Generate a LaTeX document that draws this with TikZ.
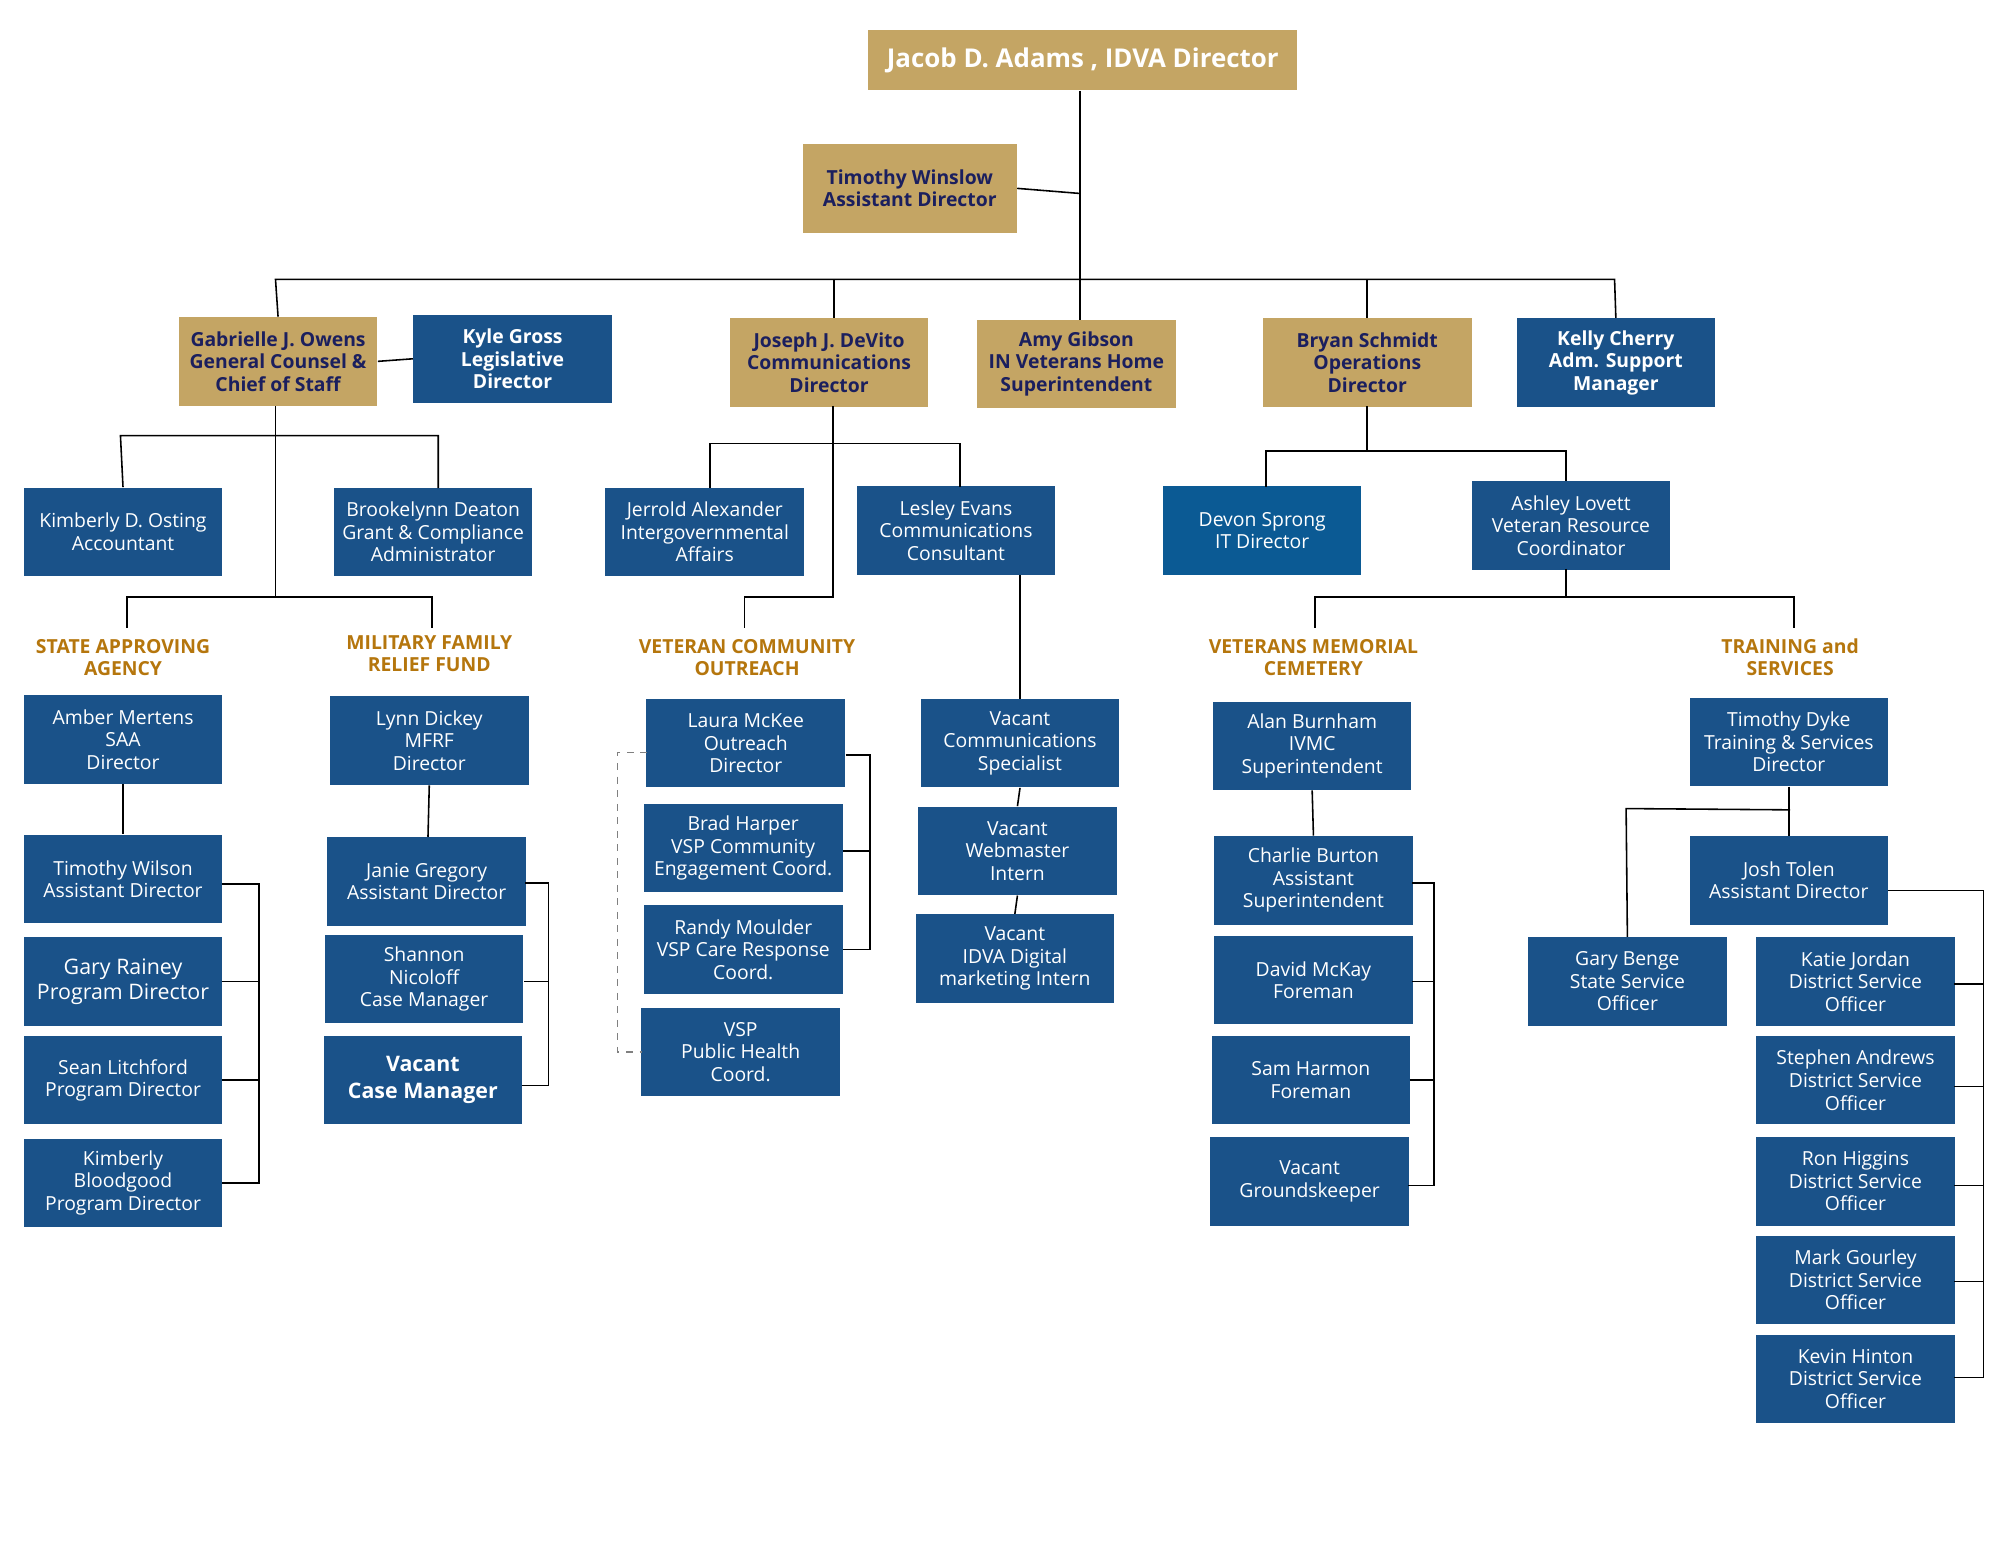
\documentclass[tikz,border=0pt]{standalone}
\usepackage{fontspec}
\setmainfont{Open Sans}
\definecolor{bl}{HTML}{1A5289}
\definecolor{bl2}{HTML}{0B5A94}
\definecolor{gd}{HTML}{C4A564}
\definecolor{nv}{HTML}{1B1F5E}
\definecolor{hd}{HTML}{B5760D}
\begin{document}
\begin{tikzpicture}[x=0.02cm,y=-0.02cm,
  bb/.style={fill=bl,text=white,minimum width=3.1cm,minimum height=1.38cm,inner sep=1pt,align=center,font=\fontsize{8.6}{10}\selectfont},
  gb/.style={fill=gd,text=nv,minimum width=3.1cm,minimum height=1.38cm,inner sep=1pt,align=center,font=\fontsize{8.6}{10}\selectfont\bfseries},
  hdr/.style={text=hd,align=center,font=\fontsize{8.6}{10}\selectfont\bfseries},
  ln/.style={draw=black,line width=0.7pt}]
\useasboundingbox (0,0) rectangle (1560,1206);
\fill[white] (0,0) rectangle (1560,1206);
% top
\node[gb,minimum width=6.7cm,minimum height=0.94cm,text=white,font=\fontsize{11.5}{13}\selectfont\bfseries] (adams) at (845,47) {Jacob D. Adams , IDVA Director};
\node[gb,minimum width=3.34cm] (winslow) at (710,147) {Timothy Winslow\\Assistant Director};
\node[gb] (owens) at (217,282) {Gabrielle J. Owens\\General Counsel \&\\Chief of Staff};
\node[bb,font=\fontsize{8.6}{10}\selectfont\bfseries] (gross) at (400,280) {Kyle Gross\\Legislative\\Director};
\node[gb] (devito) at (647,283) {Joseph J. DeVito\\Communications\\Director};
\node[gb] (gibson) at (840,284) {Amy Gibson\\IN Veterans Home\\Superintendent};
\node[gb,minimum width=3.26cm] (schmidt) at (1067,283) {Bryan Schmidt\\Operations\\Director};
\node[bb,font=\fontsize{8.6}{10}\selectfont\bfseries] (cherry) at (1261,283) {Kelly Cherry\\Adm. Support\\Manager};
% level 2
\node[bb] (osting) at (96,415) {Kimberly D. Osting\\Accountant};
\node[bb] (deaton) at (338,415) {Brookelynn Deaton\\Grant \& Compliance\\Administrator};
\node[bb] (alexander) at (550,415) {Jerrold Alexander\\Intergovernmental\\Affairs};
\node[bb] (evans) at (746,414) {Lesley Evans\\Communications\\Consultant};
\node[bb,fill=bl2] (sprong) at (985,414) {Devon Sprong\\IT Director};
\node[bb] (lovett) at (1226,410) {Ashley Lovett\\Veteran Resource\\Coordinator};
% headers
\node[hdr] (hsaa) at (96,513) {STATE APPROVING\\AGENCY};
\node[hdr] (hmfrf) at (335,510) {MILITARY FAMILY\\RELIEF FUND};
\node[hdr] (hvco) at (583,513) {VETERAN COMMUNITY\\OUTREACH};
\node[hdr] (hvmc) at (1025,513) {VETERANS MEMORIAL\\CEMETERY};
\node[hdr] (hts) at (1397,513) {TRAINING and\\SERVICES};
% columns
\node[bb] (mertens) at (96,577) {Amber Mertens\\SAA\\Director};
\node[bb] (twilson) at (96,686) {Timothy Wilson\\Assistant Director};
\node[bb,font=\fontsize{9.5}{11}\selectfont] (rainey) at (96,766) {Gary Rainey\\Program Director};
\node[bb] (litchford) at (96,843) {Sean Litchford\\Program Director};
\node[bb] (bloodgood) at (96,923) {Kimberly\\Bloodgood\\Program Director};
\node[bb] (dickey) at (335,578) {Lynn Dickey\\MFRF\\Director};
\node[bb] (gregory) at (333,688) {Janie Gregory\\Assistant Director};
\node[bb] (nicoloff) at (331,764) {Shannon\\Nicoloff\\Case Manager};
\node[bb,font=\fontsize{9.5}{12}\selectfont\bfseries] (vaccase) at (330,843) {Vacant\\Case Manager};
\node[bb] (mckee) at (582,580) {Laura McKee\\Outreach\\Director};
\node[bb] (harper) at (580,662) {Brad Harper\\VSP Community\\Engagement Coord.};
\node[bb] (moulder) at (580,741) {Randy Moulder\\VSP Care Response\\Coord.};
\node[bb] (vsp) at (578,821) {VSP\\Public Health\\Coord.};
\node[bb] (vaccomm) at (796,580) {Vacant\\Communications\\Specialist};
\node[bb] (webm) at (794,664) {Vacant\\Webmaster\\Intern};
\node[bb] (digital) at (792,748) {Vacant\\IDVA Digital\\marketing Intern};
\node[bb] (burnham) at (1024,582) {Alan Burnham\\IVMC\\Superintendent};
\node[bb] (burton) at (1025,687) {Charlie Burton\\Assistant\\Superintendent};
\node[bb] (mckay) at (1025,765) {David McKay\\Foreman};
\node[bb] (harmon) at (1023,843) {Sam Harmon\\Foreman};
\node[bb] (ground) at (1022,922) {Vacant\\Groundskeeper};
\node[bb] (dyke) at (1396,579) {Timothy Dyke\\Training \& Services\\Director};
\node[bb] (tolen) at (1396,687) {Josh Tolen\\Assistant Director};
\node[bb] (benge) at (1270,766) {Gary Benge\\State Service\\Officer};
\node[bb] (jordan) at (1448,766) {Katie Jordan\\District Service\\Officer};
\node[bb] (andrews) at (1448,843) {Stephen Andrews\\District Service\\Officer};
\node[bb] (higgins) at (1448,922) {Ron Higgins\\District Service\\Officer};
\node[bb] (gourley) at (1448,999) {Mark Gourley\\District Service\\Officer};
\node[bb] (hinton) at (1448,1076) {Kevin Hinton\\District Service\\Officer};
% connectors
\coordinate (tb) at (843,218);
\draw[ln] (843,71) -- (843,250);
\draw[ln] (winslow.east) -- (843,151);
\draw[ln] (owens.north) -- (215,218) -- (1260,218) -- (cherry.north);
\draw[ln] (651,218) -- (651,248);
\draw[ln] (1067,218) -- (schmidt.north);
\draw[ln] (owens.east) -- (gross.west);
\draw[ln] (215,317) -- (215,466);
\draw[ln] (osting.north) -- (94,340) -- (342,340) -- (342,381);
\draw[ln] (99,490) -- (99,466) -- (337,466) -- (337,490);
\draw[ln] (650,317) -- (650,466) -- (581,466) -- (581,490);
\draw[ln] (554,381) -- (554,346) -- (749,346) -- (749,380);
\draw[ln] (796,449) -- (vaccomm.north);
\draw[ln] (vaccomm.south) -- (webm.north);
\draw[ln] (webm.south) -- (digital.north);
\draw[ln] (1067,317) -- (1067,352);
\draw[ln] (988,380) -- (988,352) -- (1222,352) -- (1222,375);
\draw[ln] (1222,444) -- (1222,466);
\draw[ln] (1026,490) -- (1026,466) -- (1400,466) -- (1400,490);
\draw[ln] (mertens.south) -- (twilson.north);
\draw[ln] (173,690) -- (202,690) -- (202,923) -- (173,923);
\draw[ln] (173,766) -- (202,766); \draw[ln] (173,843) -- (202,843);
\draw[ln] (dickey.south) -- (334,653);
\draw[ln] (410,689) -- (428,689) -- (428,847) -- (407,847);
\draw[ln] (409,766) -- (428,766);
\draw[ln] (660,589) -- (679,589) -- (679,741) -- (658,741);
\draw[ln] (658,664) -- (679,664);
\draw[gray,dashed,line width=0.6pt] (505,587) -- (482,587) -- (482,821) -- (501,821);
\draw[ln] (burnham.south) -- (burton.north);
\draw[ln] (1102,689) -- (1119,689) -- (1119,925) -- (1099,925);
\draw[ln] (1102,766) -- (1119,766); \draw[ln] (1100,843) -- (1119,843);
\draw[ln] (dyke.south) -- (tolen.north);
\draw[ln] (1397,632) -- (1269,631) -- (benge.north);
\draw[ln] (1473,695) -- (1548,695) -- (1548,1075) -- (1525,1075);
\foreach \yy in {768,848,925,1000} \draw[ln] (1525,\yy) -- (1548,\yy);
\end{tikzpicture}
\end{document}
